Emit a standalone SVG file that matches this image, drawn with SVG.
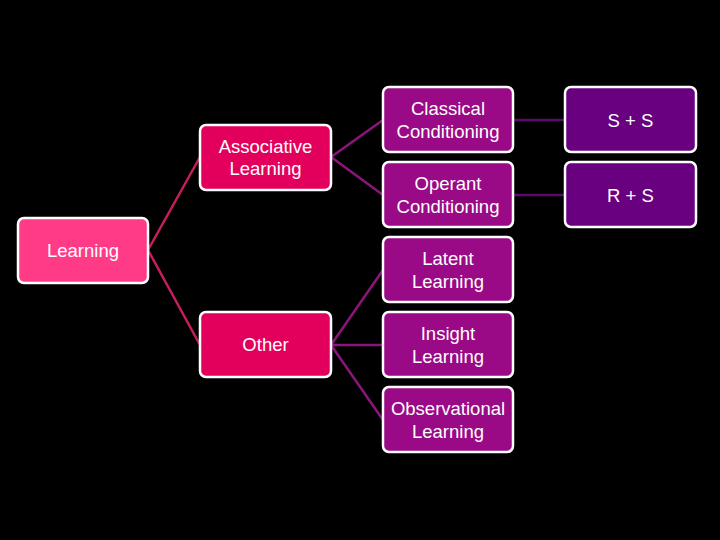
<svg xmlns="http://www.w3.org/2000/svg" width="720" height="540" viewBox="0 0 720 540">
<style>
.box{stroke:#ffffff;stroke-width:2.5}
.l1{fill:#ff3b88}
.l2{fill:#e3005c}
.l3{fill:#9a0a86}
.l4{fill:#680080}
text{font-family:"Liberation Sans",Arial,sans-serif;font-size:18.5px;fill:#ffffff;text-anchor:middle}
.c1{stroke:#c81c5e;stroke-width:2.5;fill:none}
.c2{stroke:#8c1579;stroke-width:2.5;fill:none}
.c3{stroke:#5c0a6e;stroke-width:2.5;fill:none}
</style>
<rect width="720" height="540" fill="#000000"/>
<g id="connectors">
<path class="c1" d="M148,250 L200,157 M148,250 L200,345"/>
<path class="c2" d="M331,157 L383,120 M331,157 L383,195 M331,345 L383,270 M331,345 L383,345 M331,345 L383,420"/>
<path class="c3" d="M513,120 L565,120 M513,195 L565,195"/>
</g>
<g id="learning"><rect class="box l1" x="18" y="218" width="130" height="65" rx="6"/><text x="83" y="257">Learning</text></g>
<g id="associative"><rect class="box l2" x="200" y="125" width="131" height="65" rx="6"/><text x="265.5" y="153">Associative</text><text x="265.5" y="175">Learning</text></g>
<g id="other"><rect class="box l2" x="200" y="312" width="131" height="65" rx="6"/><text x="265.5" y="351">Other</text></g>
<g id="classical"><rect class="box l3" x="383" y="87" width="130" height="65" rx="6"/><text x="448" y="115">Classical</text><text x="448" y="138">Conditioning</text></g>
<g id="operant"><rect class="box l3" x="383" y="162" width="130" height="65" rx="6"/><text x="448" y="190">Operant</text><text x="448" y="213">Conditioning</text></g>
<g id="latent"><rect class="box l3" x="383" y="237" width="130" height="65" rx="6"/><text x="448" y="265">Latent</text><text x="448" y="288">Learning</text></g>
<g id="insight"><rect class="box l3" x="383" y="312" width="130" height="65" rx="6"/><text x="448" y="340">Insight</text><text x="448" y="363">Learning</text></g>
<g id="observational"><rect class="box l3" x="383" y="387" width="130" height="65" rx="6"/><text x="448" y="415">Observational</text><text x="448" y="438">Learning</text></g>
<g id="ss"><rect class="box l4" x="565" y="87" width="131" height="65" rx="6"/><text x="630.5" y="127">S + S</text></g>
<g id="rs"><rect class="box l4" x="565" y="162" width="131" height="65" rx="6"/><text x="630.5" y="202">R + S</text></g>
</svg>
